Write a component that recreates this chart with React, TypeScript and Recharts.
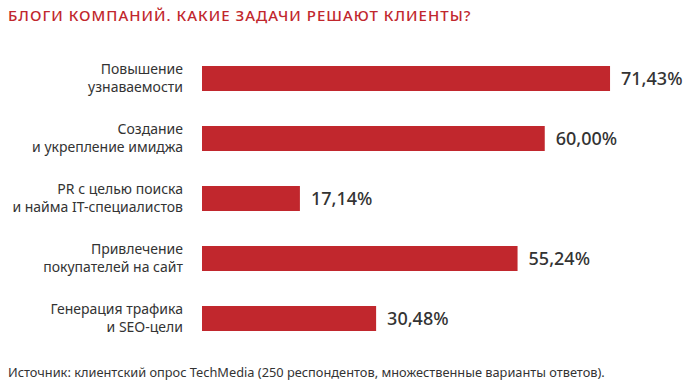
import { BarChart, Bar, XAxis, YAxis, LabelList } from "recharts";

const categories = [
  "Повышение\nузнаваемости",
  "Создание\nи укрепление имиджа",
  "PR с целью поиска\nи найма IT-специалистов",
  "Привлечение\nпокупателей на сайт",
  "Генерация трафика\nи SEO-цели",
];
const shares = [71.43, 60.0, 17.14, 55.24, 30.48];

const data = categories.map((name, i) => ({ name, value: shares[i] }));

const RED = "#c1272d";
const FONT = "'Noto Sans', sans-serif";

function CategoryTick(props: any) {
  const { x, y, payload } = props;
  const lines: string[] = String(payload.value).split("\n");
  return (
    <text
      x={x}
      y={y}
      textAnchor="end"
      fill="#333"
      fontSize={14}
      fontFamily={FONT}
    >
      {lines.map((line, i) => (
        <tspan key={i} x={x} dy={i === 0 ? -4 : 18}>
          {line}
        </tspan>
      ))}
    </text>
  );
}

export default function App() {
  return (
    <div
      style={{
        position: "absolute",
        left: 0,
        top: 0,
        width: 688,
        height: 384,
        background: "#fff",
        fontFamily: FONT,
      }}
    >
      <div
        style={{
          position: "absolute",
          left: 8,
          top: 5,
          color: RED,
          fontSize: 15,
          fontWeight: 500,
          letterSpacing: 1,
          whiteSpace: "nowrap",
        }}
      >
        БЛОГИ КОМПАНИЙ. КАКИЕ ЗАДАЧИ РЕШАЮТ КЛИЕНТЫ?
      </div>
      <BarChart
        width={688}
        height={384}
        data={data}
        layout="vertical"
        margin={{ top: 48, right: 29, bottom: 36, left: 0 }}
      >
        <XAxis type="number" domain={[0, 80]} hide />
        <YAxis
          type="category"
          dataKey="name"
          width={202}
          axisLine={false}
          tickLine={false}
          tickMargin={13}
          tick={<CategoryTick />}
        />
        <Bar dataKey="value" fill={RED} barSize={25} isAnimationActive={false}>
          <LabelList
            dataKey="value"
            position="right"
            offset={11}
            fill="#333"
            fontSize={18}
            fontWeight={500}
            fontFamily={FONT}
            formatter={(v: any) => Number(v).toFixed(2).replace(".", ",") + "%"}
          />
        </Bar>
      </BarChart>
      <div
        style={{
          position: "absolute",
          left: 8,
          top: 363,
          color: "#333",
          fontSize: 12.8,
          whiteSpace: "nowrap",
        }}
      >
        Источник: клиентский опрос TechMedia (250 респондентов, множественные варианты ответов).
      </div>
    </div>
  );
}
